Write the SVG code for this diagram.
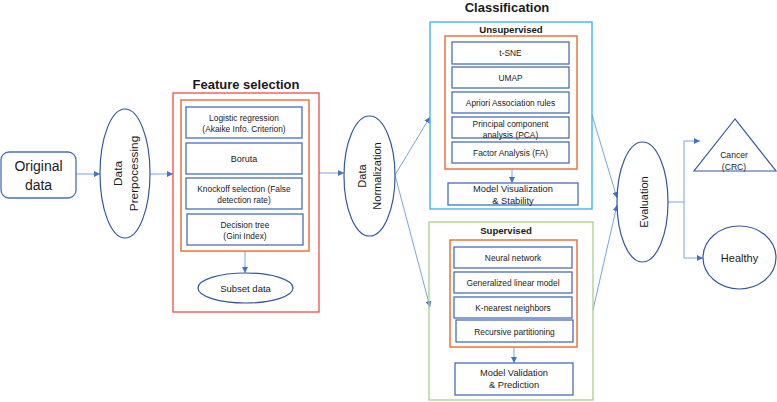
<svg xmlns="http://www.w3.org/2000/svg" width="777" height="402" viewBox="0 0 777 402">
<defs>
<marker id="ah" viewBox="0 0 8 8" refX="8" refY="4" markerWidth="6" markerHeight="6" markerUnits="userSpaceOnUse" orient="auto">
<path d="M0,0 L8,4 L0,8 z" fill="#4472c4"/>
</marker>
</defs>
<style>
text{font-family:"Liberation Sans",Arial,sans-serif;fill:#1a1a1a;text-anchor:middle;dominant-baseline:central}
.box{fill:#fff;stroke:#4a6fb5;stroke-width:1.3}
.ell{fill:#fff;stroke:#35579e;stroke-width:1.2}
.red{fill:none;stroke:#f44a4a;stroke-width:1.3}
.org{fill:none;stroke:#e8763a;stroke-width:1.5}
.cyan{fill:none;stroke:#2fb1ee;stroke-width:1.3}
.grn{fill:none;stroke:#a8d08c;stroke-width:1.3}
.con{fill:none;stroke:#7aa3e0;stroke-width:1;marker-end:url(#ah)}
.con2{fill:none;stroke:#7aa3e0;stroke-width:1}
.t{font-size:8.4px}
.title{font-size:13px;font-weight:bold}
.sub{font-size:9.6px;font-weight:bold}
.mid{font-size:9.3px}
</style>
<rect width="777" height="402" fill="#fff"/>

<g id="connectors">
<line class="con" x1="76" y1="174" x2="100" y2="174"/>
<line class="con" x1="150" y1="174" x2="173" y2="174"/>
<line class="con" x1="245" y1="251" x2="245" y2="273"/>
<line class="con" x1="319" y1="173" x2="344" y2="173"/>
<line class="con" x1="395" y1="175" x2="430" y2="117"/>
<line class="con" x1="395" y1="175" x2="430" y2="307"/>
<line class="con" x1="512" y1="169" x2="512" y2="183"/>
<line class="con" x1="514" y1="347" x2="514" y2="363"/>
<line class="con" x1="592" y1="115" x2="617" y2="198"/>
<line class="con" x1="593" y1="310" x2="617" y2="205"/>
<polyline class="con2" points="668,202 684,202"/>
<polyline class="con" points="684,202 684,141 700,141"/>
<polyline class="con" points="684,202 684,258 703,258"/>
</g>

<g id="original">
<rect class="box" x="1" y="152" width="75" height="46" rx="8"/>
<text x="38.5" y="166" style="font-size:14px">Original</text>
<text x="38.5" y="185" style="font-size:14px">data</text>
</g>

<g id="preprocessing">
<ellipse class="ell" cx="125" cy="173.5" rx="25" ry="64.5"/>
<text transform="translate(118,173.5) rotate(-90)" style="font-size:11.8px">Data</text>
<text transform="translate(134,173.5) rotate(-90)" style="font-size:11.8px">Prerpocessing</text>
</g>

<g id="feature-selection">
<text class="title" x="246" y="84">Feature selection</text>
<rect class="red" x="173" y="93" width="146" height="219"/>
<rect class="org" x="181" y="100" width="128" height="151"/>
<rect class="box" x="186" y="107" width="116" height="31"/>
<text class="t" x="244" y="117.5">Logistic regression</text>
<text class="t" x="244" y="128.5">(Akaike Info. Criterion)</text>
<rect class="box" x="186" y="143" width="116" height="31"/>
<text class="t" x="244" y="158.5" style="font-size:9px">Boruta</text>
<rect class="box" x="186" y="178" width="116" height="31"/>
<text class="t" x="244" y="189">Knockoff selection (False</text>
<text class="t" x="244" y="200">detection rate)</text>
<rect class="box" x="187" y="214" width="116" height="31"/>
<text class="t" x="245" y="224.5">Decision tree</text>
<text class="t" x="245" y="235.5">(Gini Index)</text>
</g>

<g id="subset-data">
<ellipse class="ell" cx="245.5" cy="288" rx="47.5" ry="15"/>
<text x="245.5" y="288" style="font-size:9.5px">Subset data</text>
</g>

<g id="normalization">
<ellipse class="ell" cx="369.5" cy="176" rx="25.5" ry="60"/>
<text transform="translate(362,176) rotate(-90)" style="font-size:11px">Data</text>
<text transform="translate(377,176) rotate(-90)" style="font-size:11px">Normalization</text>
</g>

<g id="classification">
<text class="title" x="507" y="7">Classification</text>
</g>

<g id="unsupervised">
<rect class="cyan" x="430" y="22" width="162" height="187"/>
<text class="sub" x="511" y="29.5">Unsupervised</text>
<rect class="org" x="445" y="36" width="132" height="133"/>
<rect class="box" x="452" y="42" width="117" height="22"/>
<text class="t" x="510.5" y="53">t-SNE</text>
<rect class="box" x="452" y="67" width="117" height="21"/>
<text class="t" x="510.5" y="77.5">UMAP</text>
<rect class="box" x="452" y="92" width="117" height="21"/>
<text class="t" x="510.5" y="102.5">Apriori Association rules</text>
<rect class="box" x="452" y="117" width="117" height="21"/>
<text class="t" x="510.5" y="123.5">Principal component</text>
<text class="t" x="510.5" y="134.5">analysis (PCA)</text>
<rect class="box" x="452" y="142" width="117" height="21"/>
<text class="t" x="510.5" y="153">Factor Analysis (FA)</text>
</g>

<g id="model-visualization">
<rect class="box" x="448" y="183" width="130" height="22"/>
<text class="mid" x="513" y="188.5">Model Visualization</text>
<text class="mid" x="513" y="200.5">&amp; Stability</text>
</g>

<g id="supervised">
<rect class="grn" x="429" y="222" width="164" height="178"/>
<text class="sub" x="506" y="230.5">Supervised</text>
<rect class="org" x="450" y="240" width="127" height="107"/>
<rect class="box" x="454" y="247" width="118" height="21"/>
<text class="t" x="513" y="257.5">Neural network</text>
<rect class="box" x="454" y="272" width="118" height="21"/>
<text class="t" x="513" y="282.5">Generalized linear model</text>
<rect class="box" x="454" y="297" width="118" height="21"/>
<text class="t" x="513" y="307.5">K-nearest neighbors</text>
<rect class="box" x="456" y="320" width="117" height="22"/>
<text class="t" x="514.5" y="331.5">Recursive partitioning</text>
</g>

<g id="model-validation">
<rect class="box" x="455" y="363" width="118" height="32"/>
<text class="mid" x="514" y="373">Model Validation</text>
<text class="mid" x="514" y="384.5">&amp; Prediction</text>
</g>

<g id="evaluation">
<ellipse class="ell" cx="642.5" cy="202" rx="25.5" ry="60"/>
<text transform="translate(644,202) rotate(-90)" style="font-size:11px">Evaluation</text>
</g>

<g id="cancer">
<polygon class="ell" points="735,119 694,171 776,171"/>
<text x="734" y="155" style="font-size:8.6px">Cancer</text>
<text x="734" y="166.5" style="font-size:8.6px">(CRC)</text>
</g>

<g id="healthy">
<ellipse class="ell" cx="739.5" cy="257.5" rx="36.5" ry="31.5"/>
<text x="739.5" y="257.5" style="font-size:11px">Healthy</text>
</g>
</svg>
